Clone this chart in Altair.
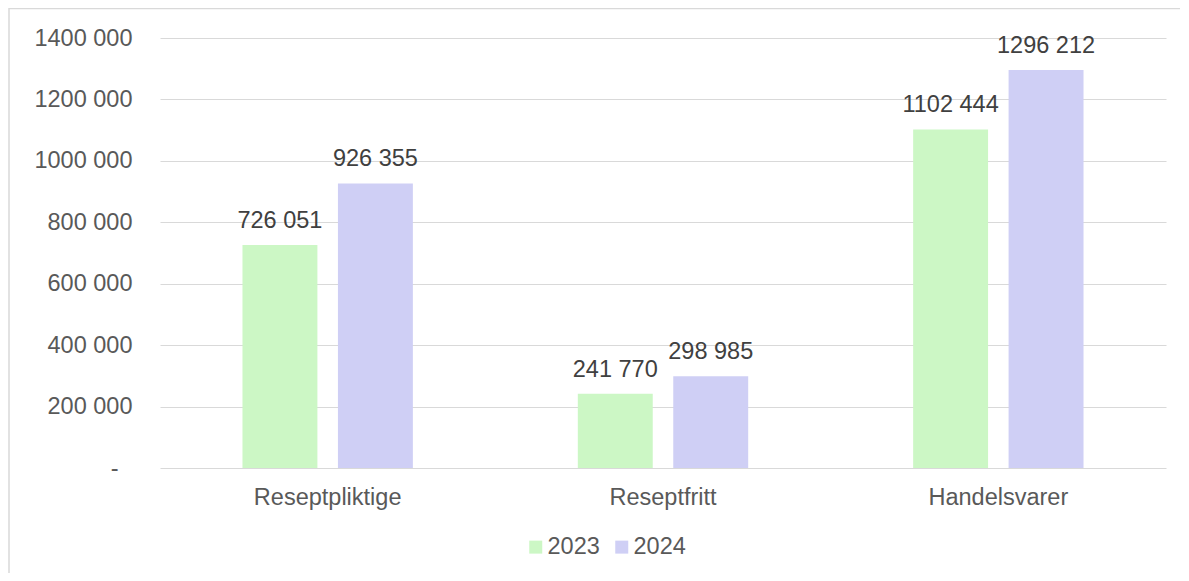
import altair as alt
import pandas as pd

categories = ["Reseptpliktige", "Reseptfritt", "Handelsvarer"]
series = ["2023", "2024"]
values_2023 = [726051, 241770, 1102444]
values_2024 = [926355, 298985, 1296212]
y_ticks = [0, 200000, 400000, 600000, 800000, 1000000, 1200000, 1400000]

rows = []
for i, c in enumerate(categories):
    rows.append({"category": c, "year": "2023", "value": values_2023[i]})
    rows.append({"category": c, "year": "2024", "value": values_2024[i]})
df = pd.DataFrame(rows)

TEXT = "#595959"
GRID = "#D9D9D9"
FONT = "Liberation Sans"
FS = 23.5
colors = ["#CCF7C5", "#CFCFF5"]

label_expr = ("format(floor(datum.value/1000),'d') + ' ' + format(datum.value%1000,'03d')")

base = alt.Chart(df).transform_calculate(
    label="format(floor(datum.value/1000),'d') + ' ' + format(datum.value%1000,'03d')"
)

x_enc = alt.X("category:N", sort=categories, title=None,
              scale=alt.Scale(paddingInner=0, paddingOuter=0),
              axis=alt.Axis(labelAngle=0, domain=False, ticks=False, labelPadding=17,
                            labelFont=FONT, labelFontSize=FS, labelColor=TEXT))
xo_enc = alt.XOffset("year:N", sort=series,
                     scale=alt.Scale(paddingInner=0.215, paddingOuter=0.864))

bars = base.mark_bar().encode(
    x=x_enc,
    xOffset=xo_enc,
    y=alt.Y("value:Q", title=None,
            scale=alt.Scale(domain=[0, 1400000], nice=False),
            axis=alt.Axis(values=y_ticks, domain=False, ticks=False,
                          labelPadding={"condition": {"test": "datum.value == 0", "value": 42},
                                        "value": 28},
                          gridColor=GRID, gridWidth=1.2,
                          labelExpr="datum.value == 0 ? '-' : " + label_expr,
                          labelFont=FONT, labelFontSize=FS, labelColor=TEXT)),
    color=alt.Color("year:N", sort=series, title=None,
                    scale=alt.Scale(domain=series, range=colors),
                    legend=alt.Legend(orient="none", legendX=364, legendY=497,
                                      direction="horizontal", symbolType="square",
                                      symbolSize=169, symbolStrokeWidth=0,
                                      labelFont=FONT, labelFontSize=FS, labelColor=TEXT,
                                      labelOffset=0, columnPadding=10)),
)

labels = base.mark_text(baseline="alphabetic", dy=-17, font=FONT, fontSize=FS,
                        color="#404040").encode(
    x=alt.X("category:N", sort=categories),
    xOffset=xo_enc,
    y="value:Q",
    text="label:N",
)

border = alt.Chart(alt.Data(values=[{"a": 1}])).mark_rect(
    fill=None, stroke=GRID, strokeWidth=1.5
).encode(
    x=alt.value(-151), x2=alt.value(1100), y=alt.value(-29.5), y2=alt.value(700)
)

chart = alt.layer(border, bars, labels).properties(
    width=1006, height=430,
    autosize=alt.AutoSizeParams(type="none"),
    padding={"left": 152, "top": 30, "right": 14, "bottom": 105},
    background="white",
).configure_view(stroke=None)

chart.save("out.html", embed_options={"renderer": "svg", "actions": False})
